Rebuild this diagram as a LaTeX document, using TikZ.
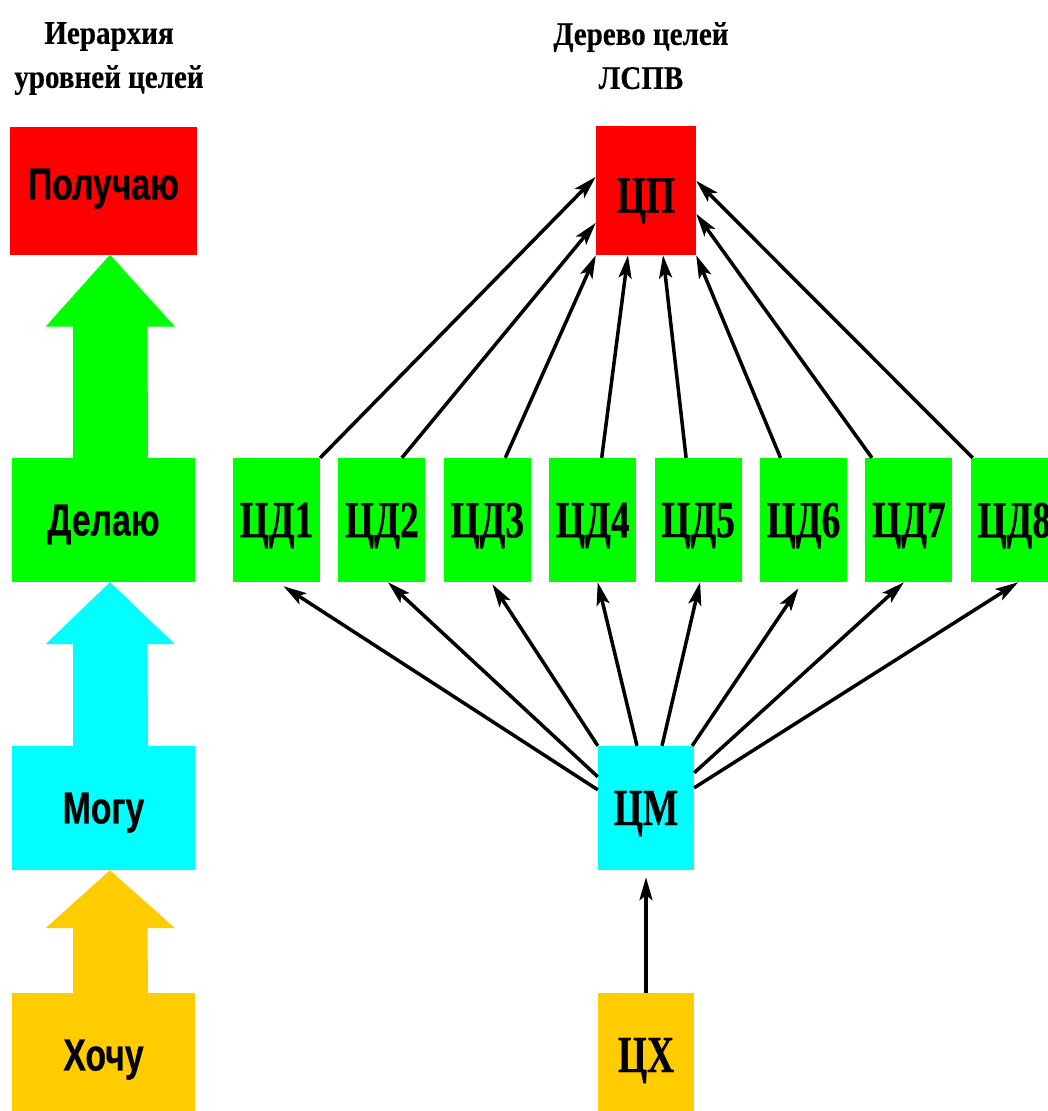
\documentclass[tikz,border=0pt]{standalone}
\usepackage{fontspec}
\newfontfamily\levelfont[FakeStretch=0.75,FakeBold=0.5]{Liberation Sans}
\newfontfamily\goalfont[FakeStretch=0.72,FakeBold=0.6]{Liberation Serif}
\newfontfamily\titlefont[FakeStretch=0.88,FakeBold=0.4]{Liberation Serif}
\usetikzlibrary{arrows.meta,calc}

\definecolor{getred}{RGB}{255,0,0}
\definecolor{dogreen}{RGB}{0,255,0}
\definecolor{cancyan}{RGB}{0,255,255}
\definecolor{wantyellow}{RGB}{255,204,0}

\tikzset{
  lvlbox/.style={rectangle,inner sep=0pt,minimum width=183pt,minimum height=124pt,text depth=0pt,
    font=\levelfont\bfseries\fontsize{45}{50}\selectfont},
  goalbox/.style={rectangle,inner sep=0pt,minimum width=96pt,minimum height=124pt,text depth=0pt,
    font=\goalfont\bfseries\fontsize{52}{56}\selectfont},
  title/.style={align=center,inner sep=0pt,anchor=north,
    font=\titlefont\bfseries\fontsize{33}{44}\selectfont},
  link/.style={line width=3.5pt,-{Stealth[length=23pt,width=13pt,inset=5pt]}}
}

% wide arrow: colour, lower node, upper node, head length
\newcommand\bigarrow[4]{%
  \fill[#1] ($(#3.south)+(6.5,0)$) -- ++(65,#4) -- ++(-27.5,0)
    -- ($(#2.north)+(44.5,0)$) -- ($(#2.north)+(-30.5,0)$)
    -- ($(#3.south)+(-30.5,#4)$) -- ++(-27.5,0) -- cycle;}

\begin{document}
\begin{tikzpicture}[x=1pt,y=-1pt]
  \useasboundingbox (0,0) rectangle (1047,1111);

  \node (hiertitle) at (109,22) [title] {Иерархия\\уровней целей};
  \node (treetitle) at (641,22) [title] {Дерево целей\\ЛСПВ};

  % levels
  \node (get)  at (103.5,190.5) [lvlbox,fill=getred,minimum width=187pt,minimum height=128pt,
    text depth=13pt] {Получаю};
  \node (do)   at (103.5,520)   [lvlbox,fill=dogreen] {Делаю};
  \node (can)  at (103.5,808)   [lvlbox,fill=cancyan] {Могу};
  \node (want) at (103.5,1055)  [lvlbox,fill=wantyellow] {Хочу};

  \bigarrow{dogreen}{do}{get}{72}
  \bigarrow{cancyan}{can}{do}{62}
  \bigarrow{wantyellow}{want}{can}{58}

  % tree
  \node (cp) at (646,190.5) [goalbox,fill=getred,minimum width=100pt,minimum height=129pt,
    text height=44pt] {ЦП};
  \foreach \i in {1,...,8}
    \node (d\i) at ({276.5+105.4*(\i-1)},520) [goalbox,fill=dogreen,minimum width=87pt] {ЦД\i};
  \node (cm) at (646,808)  [goalbox,fill=cancyan] {ЦМ};
  \node (cx) at (646,1055) [goalbox,fill=wantyellow] {ЦХ};

  \draw[link] (d1.north east) -- ([yshift=-51pt]cp.north west);
  \draw[link] ([xshift=20pt]d2.north) -- ([yshift=-97pt]cp.north west);
  \draw[link] ([xshift=18pt]d3.north) -- (cp.south west);
  \draw[link] ([xshift=9pt]d4.north) -- ([xshift=-18pt]cp.south);
  \draw[link] ([xshift=-12pt]d5.north) -- ([xshift=17pt]cp.south);
  \draw[link] ([xshift=-23pt]d6.north) -- (cp.south east);
  \draw[link] ([xshift=-37pt]d7.north) -- ([yshift=-88pt]cp.north east);
  \draw[link] ([xshift=2pt]d8.north west) -- ([yshift=-55pt]cp.north east);

  \draw[link] ([yshift=-44pt]cm.north west) -- ([xshift=7pt,yshift=-4pt]d1.south);
  \draw[link] ([yshift=-31pt]cm.north west) -- ([xshift=6pt]d2.south);
  \draw[link] (cm.north west) -- ([xshift=5pt,yshift=-2pt]d3.south);
  \draw[link] ([xshift=-9pt]cm.north) -- ([xshift=5pt]d4.south);
  \draw[link] ([xshift=16pt]cm.north) -- ([xshift=2pt]d5.south);
  \draw[link] ([xshift=-2pt]cm.north east) -- ([xshift=-5pt,yshift=-6pt]d6.south);
  \draw[link] ([yshift=-27pt]cm.north east) -- ([xshift=-5pt]d7.south);
  \draw[link] ([yshift=-42pt]cm.north east) -- ([xshift=4pt]d8.south);

  \draw[link,shorten >=7pt] (cx) -- (cm);
\end{tikzpicture}
\end{document}
